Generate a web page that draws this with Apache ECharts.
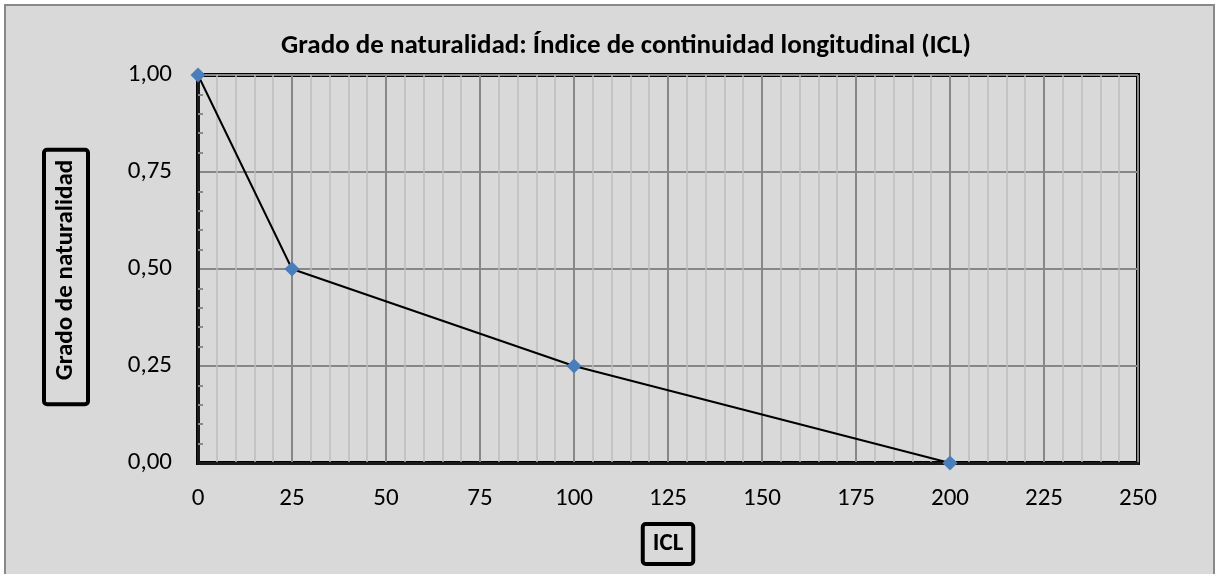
<!DOCTYPE html>
<html>
<head>
<meta charset="utf-8">
<script src="https://cdn.jsdelivr.net/npm/echarts@6/dist/echarts.min.js"></script>
<style>
    html, body { margin: 0; padding: 0; background: #fff; }
    #myChart { width: 1216px; height: 574px; }
</style>
</head>
<body>
<div id="myChart"></div>
<script>
// datos
var icl = [0, 25, 100, 200]
var grado = [1, 0.5, 0.25, 0]
var xTicks = [0, 25, 50, 75, 100, 125, 150, 175, 200, 225, 250]
var yTicks = ['0,00', '0,25', '0,50', '0,75', '1,00']

var fuente = 'Carlito, "Liberation Sans Narrow", "Open Sans", sans-serif'

var puntos = icl.map(function (x, i) {
    return [x, grado[i]]
})

var myChart = echarts.init(document.getElementById('myChart'))
var option = {
    backgroundColor: '#ffffff',
    animation: false,
    textStyle: { fontFamily: fuente },
    graphic: [
        {
            // marco exterior del grafico
            type: 'rect',
            z: -10,
            silent: true,
            shape: { x: 5, y: 5, width: 1209, height: 600 },
            style: { fill: '#d9d9d9', stroke: '#898989', lineWidth: 2 }
        },
        {
            // titulo del eje Y, en recuadro
            type: 'text',
            x: 66,
            y: 277,
            rotation: Math.PI / 2,
            silent: true,
            style: {
                text: 'Grado de naturalidad',
                font: 'bold 25px ' + fuente,
                fill: '#000',
                align: 'center',
                verticalAlign: 'middle',
                lineHeight: 30,
                borderColor: '#000',
                borderWidth: 4,
                borderRadius: 3,
                // texto girado: izquierda = abajo
                padding: [7, 10, 7, 24]
            }
        }
    ],
    title: {
        text: 'Grado de naturalidad: Índice de continuidad longitudinal (ICL)',
        left: 621,
        top: 28,
        textAlign: 'center',
        textStyle: {
            fontFamily: fuente,
            fontSize: 27,
            fontWeight: 'bold',
            color: '#000'
        }
    },
    grid: {
        left: 198,
        right: 78,
        top: 75,
        bottom: 111,
        outerBoundsMode: 'none',
        show: true,
        borderColor: '#000',
        borderWidth: 4,
        backgroundColor: 'transparent'
    },
    xAxis: {
        type: 'value',
        min: 0,
        max: 250,
        interval: 25,
        name: 'ICL',
        nameLocation: 'middle',
        nameGap: 61,
        nameTextStyle: {
            fontFamily: fuente,
            fontSize: 25,
            lineHeight: 28,
            fontWeight: 'bold',
            color: '#000',
            borderColor: '#000',
            borderWidth: 4,
            borderRadius: 3,
            padding: [6, 10, 6, 10]
        },
        axisLine: { lineStyle: { color: '#1a1a1a', width: 3 } },
        axisTick: { show: false },
        axisLabel: {
            margin: 23,
            fontSize: 25,
            color: '#000',
            formatter: function (v) {
                return xTicks.indexOf(v) >= 0 ? String(v) : ''
            }
        },
        splitLine: { lineStyle: { color: '#878787', width: 2 } },
        minorTick: { show: false, splitNumber: 5 },
        minorSplitLine: { show: true, lineStyle: { color: '#bdbdbd', width: 1.5 } }
    },
    yAxis: {
        type: 'value',
        min: 0,
        max: 1,
        interval: 0.25,
        axisLine: { lineStyle: { color: '#1a1a1a', width: 3 } },
        axisTick: { show: false },
        axisLabel: {
            margin: 26,
            fontSize: 25,
            color: '#000',
            formatter: function (v) {
                return yTicks[Math.round(v / 0.25)]
            }
        },
        splitLine: { lineStyle: { color: '#878787', width: 2 } },
        minorTick: {
            show: true,
            splitNumber: 5,
            length: -5,
            lineStyle: { color: '#8a8a8a', width: 2 }
        },
        minorSplitLine: { show: false }
    },
    series: [
        {
            type: 'line',
            data: puntos,
            symbol: 'diamond',
            symbolSize: 15,
            lineStyle: { color: '#000', width: 2 },
            itemStyle: { color: '#4a7ebb' },
            z: 5
        }
    ]
}
myChart.setOption(option)
</script>
</body>
</html>
